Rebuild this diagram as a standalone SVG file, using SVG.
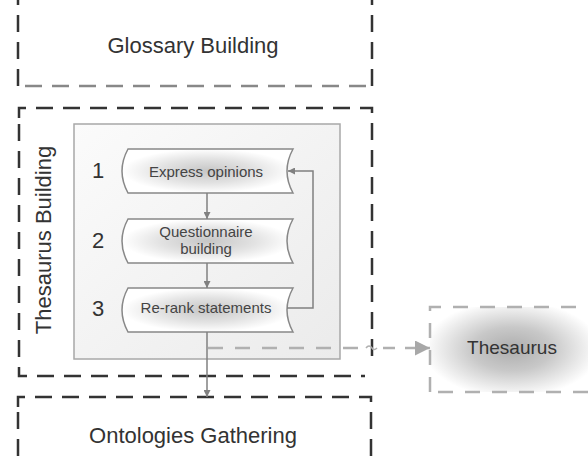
<svg xmlns="http://www.w3.org/2000/svg" width="588" height="463" viewBox="0 0 588 463">
  <style>
    .phase { fill: none; stroke: #333; stroke-width: 2.5; stroke-dasharray: 17 10; }
    .phase-light { fill: none; stroke: #888; stroke-width: 2.5; stroke-dasharray: 17 10; }
    .big { font-family: "Liberation Sans", Arial, sans-serif; font-size: 22px; fill: #333; }
    .num { font-family: "Liberation Sans", Arial, sans-serif; font-size: 22px; fill: #333; text-anchor: middle; }
    .step { font-family: "Liberation Sans", Arial, sans-serif; font-size: 15px; fill: #444; text-anchor: middle; }
    .stepbox { fill: url(#stepFill); stroke: #888; stroke-width: 1.5; }
    .flow { fill: none; stroke: #808080; stroke-width: 1.5; }
    .data { fill: none; stroke: #b0b0b0; stroke-width: 2.5; stroke-dasharray: 15 12; }
  </style>
  <defs>
    <radialGradient id="stepFill" cx="0.5" cy="0.5" r="0.5">
      <stop offset="0" stop-color="#c6c6c6"/>
      <stop offset="0.55" stop-color="#e2e2e2"/>
      <stop offset="1" stop-color="#ffffff"/>
    </radialGradient>
    <linearGradient id="panelFill" x1="0" y1="0" x2="1" y2="1">
      <stop offset="0" stop-color="#fbfbfb"/>
      <stop offset="1" stop-color="#ebebeb"/>
    </linearGradient>
    <radialGradient id="thesFill" gradientUnits="userSpaceOnUse" cx="512" cy="349" r="88" gradientTransform="translate(512 349) scale(1 0.55) translate(-512 -349)">
      <stop offset="0" stop-color="#adadad"/>
      <stop offset="0.45" stop-color="#c8c8c8"/>
      <stop offset="1" stop-color="#ffffff"/>
    </radialGradient>
    <marker id="head" viewBox="0 0 10 10" refX="10" refY="5" markerWidth="7" markerHeight="7" orient="auto" markerUnits="userSpaceOnUse">
      <path d="M0,0 L10,5 L0,10 Z" fill="#808080"/>
    </marker>
    <marker id="headData" viewBox="0 0 10 10" refX="10" refY="5" markerWidth="6" markerHeight="6" orient="auto">
      <path d="M0,0 L10,5 L0,10 Z" fill="#a8a8a8"/>
    </marker>
  </defs>

  <!-- Glossary phase -->
  <g id="glossary">
    <path class="phase" d="M18,-12 V86"/>
    <path class="phase" d="M372,-12 V86"/>
    <path class="phase-light" d="M25,86 H372" stroke-dasharray="17 10.5"/>
    <text class="big" x="193" y="53" text-anchor="middle">Glossary Building</text>
  </g>

  <!-- Thesaurus phase -->
  <g id="thesaurus-building">
    <path class="phase" d="M19,118 V108 H372 V365"/>
    <path class="phase" d="M19,124 V376 H365"/>
    <text class="big" transform="translate(51,240) rotate(-90)" text-anchor="middle">Thesaurus Building</text>
  </g>

  <g id="panel">
    <rect x="74" y="124" width="266" height="235" fill="url(#panelFill)" stroke="#a8a8a8" stroke-width="1.5"/>
  </g>

  <g id="step1">
    <path class="stepbox" d="M128,149 H293 Q281,171 293,193 H128 Q116,171 128,149 Z"/>
    <text class="num" x="98" y="178">1</text>
    <text class="step" x="206" y="177">Express opinions</text>
  </g>

  <g id="step2">
    <path class="stepbox" d="M128,219 H293 Q281,241 293,263 H128 Q116,241 128,219 Z"/>
    <text class="num" x="98" y="248">2</text>
    <text class="step" x="206" y="237">Questionnaire</text>
    <text class="step" x="206" y="254">building</text>
  </g>

  <g id="step3">
    <path class="stepbox" d="M128,288 H293 Q281,310 293,332 H128 Q116,310 128,288 Z"/>
    <text class="num" x="98" y="316">3</text>
    <text class="step" x="206" y="313">Re-rank statements</text>
  </g>

  <!-- Ontologies phase -->
  <g id="ontologies">
    <path class="phase" d="M18,407 V397 H371 V470"/>
    <path class="phase" d="M18,412 V470"/>
    <text class="big" x="193" y="443" text-anchor="middle">Ontologies Gathering</text>
  </g>

  <!-- Thesaurus artefact -->
  <g id="thesaurus">
    <rect x="430" y="307" width="200" height="85" fill="url(#thesFill)"/>
    <path class="data" d="M430,392 V307 H600"/>
    <path class="data" d="M438,392 H600"/>
    <text x="512" y="354" font-family="'Liberation Sans', Arial, sans-serif" font-size="19" fill="#333" text-anchor="middle">Thesaurus</text>
  </g>

  <!-- Connectors -->
  <g id="connectors">
    <path class="flow" d="M207,193 V219" marker-end="url(#head)"/>
    <path class="flow" d="M207,263 V288" marker-end="url(#head)"/>
    <path class="flow" d="M287,308 H313 V171 H288" marker-end="url(#head)"/>
    <path class="flow" d="M207,332 V397" marker-end="url(#head)"/>
    <path d="M208,348 H366" fill="none" stroke="#b0b0b0" stroke-width="2.5" stroke-dasharray="15 12"/>
    <path d="M366,348 q3,-4 6,0 q2,3 5,0" fill="none" stroke="#b0b0b0" stroke-width="1.5"/>
    <path d="M383,348 H430" fill="none" stroke="#b0b0b0" stroke-width="2.5" stroke-dasharray="12 10" marker-end="url(#headData)"/>
  </g>
</svg>
